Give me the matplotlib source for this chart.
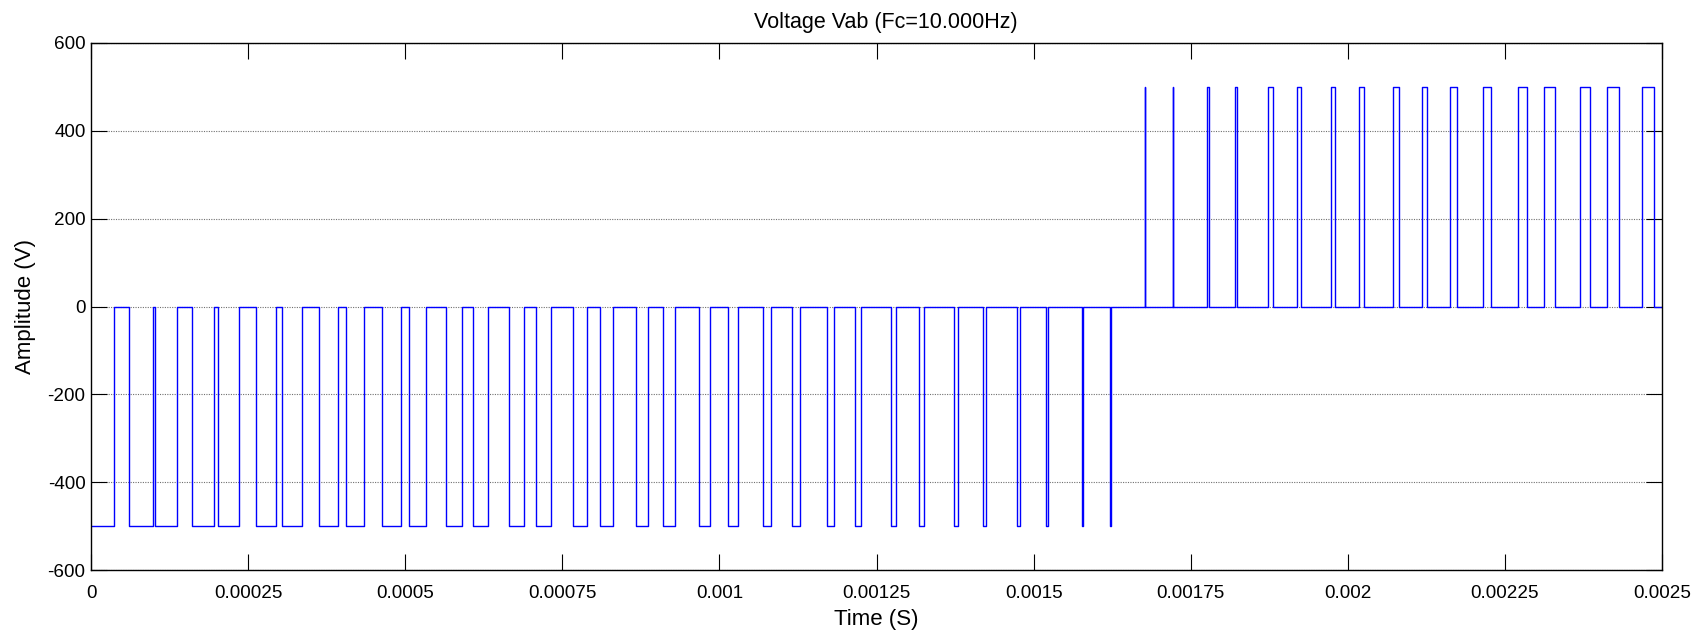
import matplotlib.pyplot as plt
import numpy as np

plt.rcParams["font.family"] = ["Liberation Sans", "DejaVu Sans"]
plt.rcParams["axes.unicode_minus"] = False

# inverter line voltage: levels in volts
V_DC = 500.0

# negative half: intervals (start, end) where the voltage sits at 0 instead of -V_DC
zero_starts = [
    3.71e-5, 9.92e-5, 1.363e-4, 1.957e-4, 2.355e-4, 2.944e-4, 3.353e-4, 3.936e-4,
    4.339e-4, 4.933e-4, 5.336e-4, 5.899e-4, 6.323e-4, 6.895e-4, 7.320e-4, 7.893e-4,
    8.301e-4, 8.869e-4, 9.298e-4, 9.850e-4, 1.0301e-3, 1.0816e-3, 1.1288e-3,
    1.1829e-3, 1.2258e-3, 1.2805e-3, 1.3256e-3, 1.3802e-3, 1.4243e-3, 1.4789e-3,
    1.5234e-3, 1.5781e-3, 1.6232e-3,
]
zero_ends = [
    6.10e-5, 1.018e-4, 1.602e-4, 2.026e-4, 2.620e-4, 3.039e-4, 3.628e-4, 4.053e-4,
    4.636e-4, 5.060e-4, 5.644e-4, 6.079e-4, 6.657e-4, 7.081e-4, 7.675e-4, 8.095e-4,
    8.678e-4, 9.107e-4, 9.680e-4, 1.0131e-3, 1.0698e-3, 1.1150e-3, 1.1712e-3,
    1.2163e-3, 1.2726e-3, 1.3181e-3, 1.3733e-3, 1.4190e-3, 1.4741e-3, 1.5202e-3,
    1.5765e-3, 1.6216e-3,
]

# positive half: pulses (rise, fall) at +V_DC
pos_rise = [
    1.6773e-3, 1.7213e-3, 1.7765e-3, 1.8205e-3, 1.8735e-3, 1.9187e-3, 1.9728e-3,
    2.0178e-3, 2.0719e-3, 2.1176e-3, 2.1634e-3, 2.2156e-3, 2.2703e-3, 2.3127e-3,
    2.3695e-3, 2.4121e-3, 2.4683e-3,
]
pos_fall = [
    1.6780e-3, 1.7220e-3, 1.7792e-3, 1.8237e-3, 1.8806e-3, 1.9255e-3, 1.9797e-3,
    2.0263e-3, 2.0810e-3, 2.1260e-3, 2.1746e-3, 2.2279e-3, 2.2846e-3, 2.3297e-3,
    2.3859e-3, 2.4312e-3, 2.4879e-3,
]

T_END = 0.0025
x_ticks = [0, 0.00025, 0.0005, 0.00075, 0.001, 0.00125, 0.0015, 0.00175, 0.002, 0.00225, 0.0025]
x_tick_labels = ["0", "0.00025", "0.0005", "0.00075", "0.001", "0.00125", "0.0015",
                 "0.00175", "0.002", "0.00225", "0.0025"]
y_ticks = [-600, -400, -200, 0, 200, 400, 600]

# build the step waveform from the switching instants
t = [0.0]
v = [-V_DC]
for k, ts in enumerate(zero_starts):
    t += [ts, ts]
    v += [-V_DC, 0.0]
    if k < len(zero_ends):
        te = zero_ends[k]
        t += [te, te]
        v += [0.0, -V_DC]
for tr, tf in zip(pos_rise, pos_fall):
    t += [tr, tr, tf, tf]
    v += [0.0, V_DC, V_DC, 0.0]
t.append(T_END)
v.append(0.0)
t = np.array(t)
v = np.array(v)

fig = plt.figure(figsize=(16.99, 6.34), dpi=100)
ax = fig.add_axes([0.0536, 0.1009, 0.9246, 0.8313])

ax.plot(t, v, color="#0000ff", lw=1.0)

ax.set_xlim(0, T_END)
ax.set_ylim(-600, 600)
ax.set_xticks(x_ticks)
ax.set_xticklabels(x_tick_labels)
ax.set_yticks(y_ticks)
ax.yaxis.grid(True, linestyle=(0, (1, 1.2)), color="#707070", lw=0.8)
ax.tick_params(direction="in", length=11.5, width=0.8, labelsize=13.6,
               top=True, right=True)
ax.tick_params(axis="x", pad=11)
ax.tick_params(axis="y", pad=4)
for s in ax.spines.values():
    s.set_linewidth(1.0)

ax.set_title("Voltage Vab (Fc=10.000Hz)", fontsize=15.5, pad=11, x=0.506)
ax.set_xlabel("Time (S)", fontsize=16, labelpad=5)
ax.set_ylabel("Amplitude (V)", fontsize=16, labelpad=8)

fig.savefig("out.png", dpi=100)
